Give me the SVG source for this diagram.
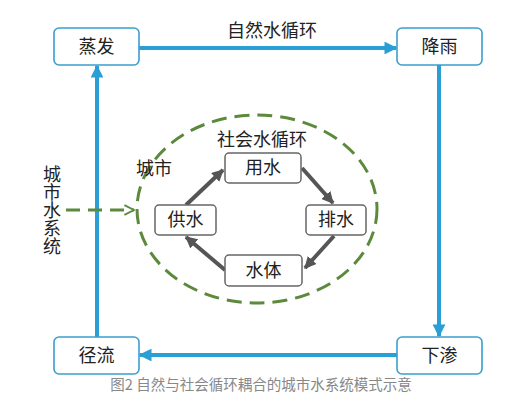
<svg xmlns="http://www.w3.org/2000/svg" width="509" height="416" viewBox="0 0 509 416">
<style>
text{font-family:"Noto Sans CJK SC","Noto Sans CJK JP",sans-serif;fill:#222;text-anchor:middle}
.ob{fill:#fff;stroke:#3a9fd0;stroke-width:1.6}
.ib{fill:#fff;stroke:#666;stroke-width:1.5}
.blue{stroke:#2a9fd6;stroke-width:4;fill:none}
.gray{stroke:#555;stroke-width:4;fill:none}
.lbl{font-size:18px}
.cap{font-size:14.5px;fill:#888}
</style>
<defs>
<marker id="ab" viewBox="0 0 10 10" refX="9" refY="5" markerWidth="3.2" markerHeight="3.2" orient="auto" markerUnits="strokeWidth">
<path d="M0,0 L10,5 L0,10 z" fill="#2a9fd6"/>
</marker>
<marker id="ag" viewBox="0 0 10 10" refX="9" refY="5" markerWidth="3" markerHeight="3" orient="auto" markerUnits="strokeWidth">
<path d="M0,0 L10,5 L0,10 z" fill="#555"/>
</marker>
<marker id="agr" viewBox="0 0 10 10" refX="9" refY="5" markerWidth="4" markerHeight="4" orient="auto" markerUnits="strokeWidth">
<path d="M1,1 L9,5 L1,9" fill="none" stroke="#5b8a3c" stroke-width="1.6"/>
</marker>
</defs>
<rect width="509" height="416" fill="#fff"/>
<g id="connectors">
<line class="blue" x1="139" y1="48" x2="396" y2="48" marker-end="url(#ab)"/>
<line class="blue" x1="439" y1="65" x2="439" y2="336" marker-end="url(#ab)"/>
<line class="blue" x1="397" y1="355" x2="140" y2="355" marker-end="url(#ab)"/>
<line class="blue" x1="97" y1="337" x2="97" y2="66" marker-end="url(#ab)"/>
<line class="gray" x1="186" y1="205" x2="223" y2="170" marker-end="url(#ag)"/>
<line class="gray" x1="302" y1="168" x2="333" y2="203" marker-end="url(#ag)"/>
<line class="gray" x1="334" y1="236" x2="305" y2="268" marker-end="url(#ag)"/>
<line class="gray" x1="225" y1="270" x2="186" y2="237" marker-end="url(#ag)"/>
<line x1="66" y1="210" x2="134" y2="210" stroke="#5b8a3c" stroke-width="3" stroke-dasharray="14,8" marker-end="url(#agr)"/>
<text class="lbl" x="272" y="37">自然水循环</text>
</g>
<g id="city">
<ellipse cx="257" cy="209" rx="120" ry="94" fill="none" stroke="#5b8a3c" stroke-width="3" stroke-dasharray="15,8"/>
<text class="lbl" x="154" y="175">城市</text>
<text class="lbl" x="262" y="146">社会水循环</text>
</g>
<g id="urban-water-system">
<text class="lbl" x="52" y="165" writing-mode="vertical-rl" style="text-anchor:start">城市水系统</text>
</g>
<g id="evaporation"><rect class="ob" x="54" y="28" width="85" height="37" rx="5"/><text class="lbl" x="96.5" y="53">蒸发</text></g>
<g id="rain"><rect class="ob" x="397" y="28" width="85" height="37" rx="5"/><text class="lbl" x="439.5" y="53">降雨</text></g>
<g id="runoff"><rect class="ob" x="54" y="337" width="85" height="37" rx="5"/><text class="lbl" x="96.5" y="362">径流</text></g>
<g id="infiltration"><rect class="ob" x="397" y="337" width="85" height="37" rx="5"/><text class="lbl" x="439.5" y="362">下渗</text></g>
<g id="use"><rect class="ib" x="225" y="153" width="76" height="30" rx="4"/><text class="lbl" x="263" y="174">用水</text></g>
<g id="drain"><rect class="ib" x="306" y="205" width="60" height="30" rx="4"/><text class="lbl" x="336" y="226">排水</text></g>
<g id="waterbody"><rect class="ib" x="225" y="255" width="77" height="31" rx="4"/><text class="lbl" x="263.5" y="277">水体</text></g>
<g id="supply"><rect class="ib" x="155" y="205" width="61" height="30" rx="4"/><text class="lbl" x="185.5" y="226">供水</text></g>
<text class="cap" x="261" y="390">图2 自然与社会循环耦合的城市水系统模式示意</text>
</svg>
